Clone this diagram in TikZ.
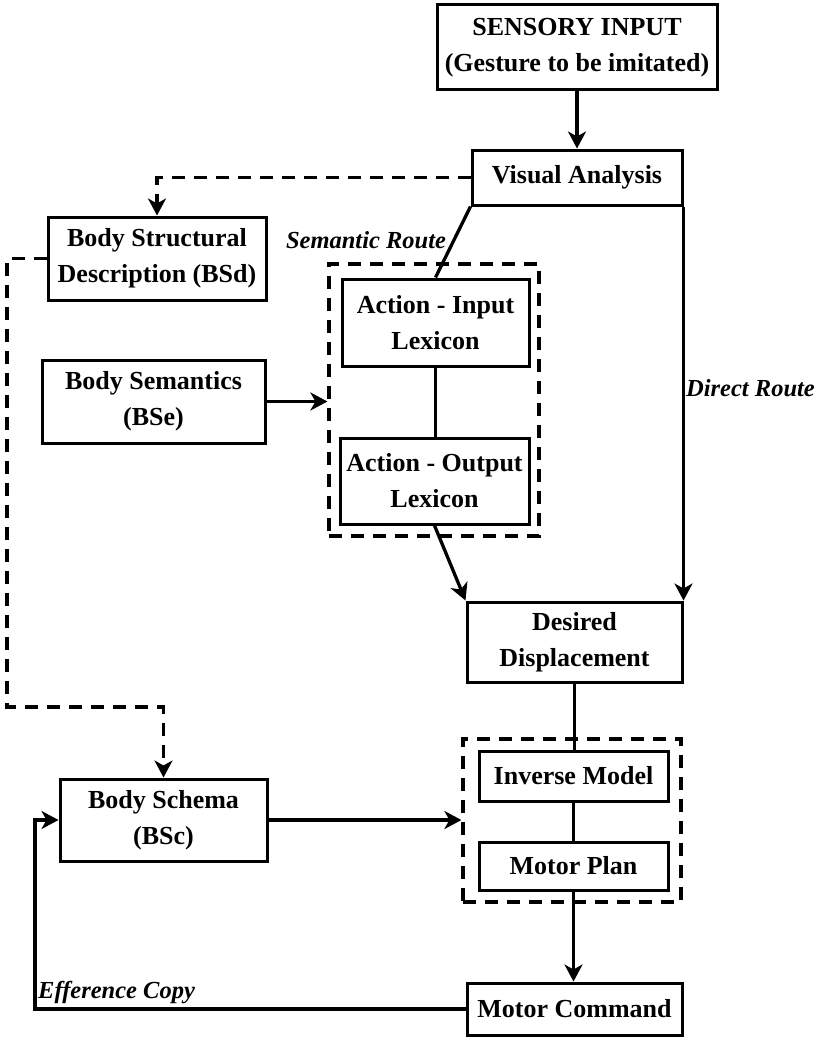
\documentclass[tikz,border=0pt]{standalone}
\usepackage{fontspec}
\setmainfont{Liberation Serif}
\usetikzlibrary{arrows.meta}
\begin{document}
\begin{tikzpicture}[x=1pt,y=-1pt,
  box/.style={draw, line width=3pt, fill=white, inner sep=0pt, align=center,
    font=\fontsize{26}{36}\selectfont\bfseries},
  grp/.style={draw, line width=3.2pt, dash pattern=on 13pt off 9pt, inner sep=0pt},
  conn/.style={line width=3.3pt},
  arr/.style={line width=3.3pt, -{Stealth[length=17pt,width=18pt,inset=5pt]}},
  darr/.style={line width=3.3pt, dash pattern=on 13pt off 9pt, -{Stealth[length=17pt,width=18pt,inset=5pt]}},
  lab/.style={font=\fontsize{24.5}{30}\selectfont\bfseries\itshape, inner sep=0pt}]
\path[use as bounding box, fill=white] (0,0) rectangle (822,1038);

% containers
\node[grp, minimum width=210pt, minimum height=272pt] (ca) at (434,400) {};
\node[grp, minimum width=218pt, minimum height=163pt] (cb) at (572,820.5) {};

% boxes
\node[box, minimum width=280pt, minimum height=85pt] (si) at (577,47.5) {SENSORY INPUT\\(Gesture to be imitated)};
\node[box, minimum width=210pt, minimum height=55pt] (va) at (577,177.5) {Visual Analysis};
\node[box, minimum width=218pt, minimum height=83pt] (bsd) at (157,258.5) {Body Structural\\Description (BSd)};
\node[box, minimum width=187pt, minimum height=87pt] (ai) at (435.5,322.5) {Action - Input\\Lexicon};
\node[box, minimum width=189pt, minimum height=86pt] (ao) at (434.5,481) {Action - Output\\Lexicon};
\node[box, minimum width=223pt, minimum height=83pt] (bse) at (153.5,401.5) {Body Semantics\\(BSe)};
\node[box, minimum width=215pt, minimum height=80pt] (dd) at (574.5,642) {Desired\\Displacement};
\node[box, minimum width=189pt, minimum height=50pt] (im) at (573.5,776) {Inverse Model};
\node[box, minimum width=189pt, minimum height=48pt] (mp) at (573.5,866) {Motor Plan};
\node[box, minimum width=215pt, minimum height=52pt] (mc) at (574.5,1009) {Motor Command};
\node[box, minimum width=207pt, minimum height=82pt] (bsc) at (163.5,820) {Body Schema\\(BSc)};

% labels
\node[lab] (lsem) at (366,240) {Semantic Route};
\node[lab, anchor=west] (ldir) at (686,388) {Direct Route};
\node[lab, anchor=west] (leff) at (38,993) {Efference Copy};

% coordinates
\coordinate (dl) at (7,258.5);
\coordinate (dm) at (7,707);
\coordinate (ef) at (35,1009);

% connectors
\draw[arr] (si.south) -- (si.south |- va.north);
\draw[darr] (va.west) -| (bsd.north);
\draw[conn] (va.south west) -- (ai.north);
\draw[conn] (ai.south) -- (ai.south |- ao.north);
\draw[arr] (bse.east) -- (bse.east -| ca.west);
\draw[arr] (ao.south) -- (dd.north west);
\draw[arr] (va.south east) -- (dd.north east);
\draw[conn] (dd.south) -- (dd.south |- im.north);
\draw[conn] (im.south) -- (im.south |- mp.north);
\draw[arr] (mp.south) -- (mp.south |- mc.north);
\draw[arr] (bsc.east) -- (bsc.east -| cb.west);
\draw[arr] (mc.west) -- (ef) |- (bsc.west);
\draw[darr] (bsd.west) -- (dl) -- (dm) -| (bsc.north);
\end{tikzpicture}
\end{document}
